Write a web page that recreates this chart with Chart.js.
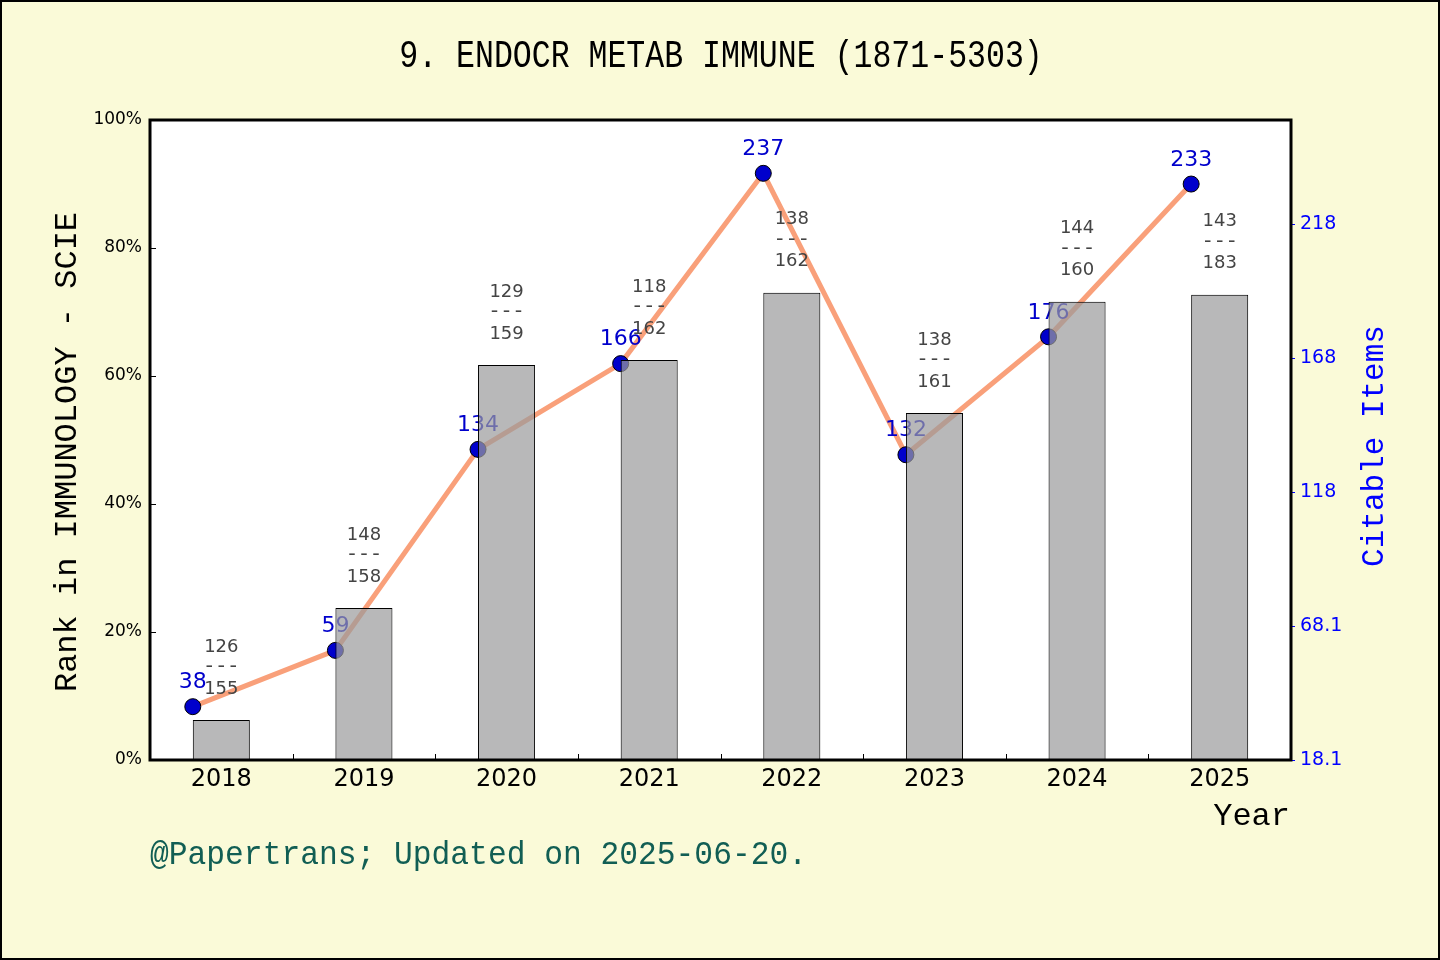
<!DOCTYPE html>
<html>
<head>
<meta charset="utf-8">
<script src="https://cdn.jsdelivr.net/npm/chart.js@4.4.1/dist/chart.umd.min.js"></script>
<style>
  html, body { margin: 0; padding: 0; background: #FAFAD8; }
  canvas { display: block; }
</style>
</head>
<body>
<canvas id="rankChart" width="1440" height="960"></canvas>
<script>
// data
const years = ["2018", "2019", "2020", "2021", "2022", "2023", "2024", "2025"];
const rankPercent = [6.25, 23.75, 61.7, 62.5, 73.0, 54.2, 71.6, 72.7];
const rankNum = [126, 148, 129, 118, 138, 138, 144, 143];
const rankTotal = [155, 158, 159, 162, 162, 161, 160, 183];
const citableItems = [38, 59, 134, 166, 237, 132, 176, 233];
const leftTicks = [0, 20, 40, 60, 80, 100];
const rightTicks = [18.1, 68.1, 118.1, 168.1, 218.1];

const BG = '#FAFAD8';
const MONO = '"Liberation Mono", "DejaVu Sans Mono", monospace';
const SANS = '"DejaVu Sans", sans-serif';

// draw text squeezed horizontally, like the narrow CJK mono face of the original
function narrowText(c, text, x, y, sx) {
    c.save();
    c.translate(x, y);
    c.scale(sx, 1);
    c.fillText(text, 0, 0);
    c.restore();
}

// background, frame, ticks and free text
const decor = {
    id: 'decor',
    beforeDraw(chart) {
        const c = chart.ctx, a = chart.chartArea;
        c.save();
        c.fillStyle = BG;
        c.fillRect(0, 0, chart.width, chart.height);
        c.fillStyle = '#ffffff';
        c.fillRect(a.left, a.top, a.right - a.left, a.bottom - a.top);
        c.restore();
    },
    afterDatasetDraw(chart, args) {
        // blue value labels sit under the bars, so draw them right after the line
        if (args.index !== 1) return;
        const c = chart.ctx;
        c.save();
        c.font = '22px ' + SANS;
        c.fillStyle = '#0000CC';
        c.textAlign = 'center';
        c.textBaseline = 'middle';
        args.meta.data.forEach((pt, i) => {
            c.fillText(String(citableItems[i]), pt.x, pt.y - 24);
        });
        c.restore();
    },
    afterDatasetsDraw(chart) {
        const c = chart.ctx;
        const bars = chart.getDatasetMeta(0).data;
        c.save();
        c.fillStyle = '#444444';
        c.textAlign = 'center';
        c.textBaseline = 'middle';
        bars.forEach((b, i) => {
            c.font = '18px ' + SANS;
            c.fillText(String(rankNum[i]), b.x, b.y - 73);
            c.fillText(String(rankTotal[i]), b.x, b.y - 31);
            c.font = '20px ' + MONO;
            c.fillText('---', b.x, b.y - 53);
        });
        c.restore();
    },
    afterDraw(chart) {
        const c = chart.ctx, a = chart.chartArea;
        const s = chart.scales;
        c.save();

        // tick marks
        c.lineWidth = 1;
        c.strokeStyle = '#000';
        leftTicks.forEach(v => {
            const y = Math.round(s.y.getPixelForValue(v)) + 0.5;
            c.beginPath(); c.moveTo(a.left, y); c.lineTo(a.left + 6, y); c.stroke();
        });
        for (let i = 0; i < years.length - 1; i++) {
            const x = Math.round((s.x.getPixelForValue(i) + s.x.getPixelForValue(i + 1)) / 2) + 0.5;
            c.beginPath(); c.moveTo(x, a.bottom); c.lineTo(x, a.bottom - 6); c.stroke();
        }
        c.strokeStyle = '#0000FF';
        rightTicks.forEach(v => {
            const y = Math.round(s.y2.getPixelForValue(v)) + 0.5;
            c.beginPath(); c.moveTo(a.right, y); c.lineTo(a.right + 4, y); c.stroke();
        });

        // plot frame
        c.lineWidth = 3;
        c.strokeStyle = '#000';
        c.strokeRect(a.left, a.top, a.right - a.left, a.bottom - a.top);

        // outer border
        c.lineWidth = 2;
        c.strokeRect(1, 1, chart.width - 2, chart.height - 2);

        // title
        c.fillStyle = '#000';
        c.textAlign = 'center';
        c.textBaseline = 'middle';
        c.font = '38px ' + MONO;
        narrowText(c, '9. ENDOCR METAB IMMUNE (1871-5303)', 721, 57, 0.83);

        // left axis title
        c.save();
        c.translate(68, 452);
        c.rotate(-Math.PI / 2);
        c.font = '32px ' + MONO;
        c.fillText('Rank in IMMUNOLOGY - SCIE', 0, 0);
        c.restore();

        // right axis title
        c.save();
        c.translate(1375, 446);
        c.rotate(-Math.PI / 2);
        c.fillStyle = '#0000FF';
        c.font = '31px ' + MONO;
        c.fillText('Citable Items', 0, 0);
        c.restore();

        // x axis title
        c.textAlign = 'right';
        c.font = '32px ' + MONO;
        c.fillText('Year', 1290, 817);

        // footer
        c.textAlign = 'left';
        c.fillStyle = '#115E54';
        c.font = '34px ' + MONO;
        narrowText(c, '@Papertrans; Updated on 2025-06-20.', 150, 855, 0.92);

        c.restore();
    }
};

new Chart(document.getElementById('rankChart').getContext('2d'), {
    data: {
        labels: years,
        datasets: [{
            type: 'bar',
            data: rankPercent,
            xAxisID: 'x',
            yAxisID: 'y',
            grouped: false,
            backgroundColor: 'rgba(155,155,157,0.71)',
            borderColor: '#000000',
            borderWidth: 1,
            barPercentage: 0.4,
            categoryPercentage: 1.0,
            order: 1
        }, {
            type: 'line',
            // points sit at the left edge of each bar
            data: citableItems.map((v, i) => ({ x: i - 0.2, y: v })),
            xAxisID: 'x2',
            yAxisID: 'y2',
            borderColor: '#F9A07A',
            borderWidth: 5,
            tension: 0,
            pointRadius: 8,
            pointBackgroundColor: '#0000CC',
            pointBorderColor: '#000000',
            pointBorderWidth: 1,
            order: 2
        }]
    },
    options: {
        responsive: false,
        animation: false,
        devicePixelRatio: 1,
        layout: { padding: { top: 120, left: 0, right: 0, bottom: 0 } },
        plugins: {
            legend: { display: false },
            tooltip: { enabled: false }
        },
        scales: {
            x: {
                type: 'category',
                offset: true,
                grid: { display: false },
                border: { display: false },
                ticks: { color: '#000', font: { family: SANS, size: 24 }, padding: -3, maxRotation: 0 },
                afterFit(scale) { scale.height = 200; }
            },
            x2: {
                type: 'linear',
                display: false,
                min: -0.5,
                max: years.length - 0.5
            },
            y: {
                position: 'left',
                min: 0,
                max: 100,
                grid: { display: false },
                border: { display: false },
                afterBuildTicks(scale) { scale.ticks = leftTicks.map(v => ({ value: v })); },
                ticks: {
                    color: '#000',
                    font: { family: SANS, size: 17 },
                    padding: 0,
                    callback: v => v + '%'
                },
                afterFit(scale) { scale.width = 150; }
            },
            y2: {
                position: 'right',
                min: 18.1,
                max: 256.9,
                grid: { display: false },
                border: { display: false },
                afterBuildTicks(scale) { scale.ticks = rightTicks.map(v => ({ value: v })); },
                ticks: {
                    color: '#0000FF',
                    font: { family: SANS, size: 19 },
                    padding: 1,
                    callback: v => Number(v).toPrecision(3)
                },
                afterFit(scale) { scale.width = 149; }
            }
        }
    },
    plugins: [decor]
});
</script>
</body>
</html>
